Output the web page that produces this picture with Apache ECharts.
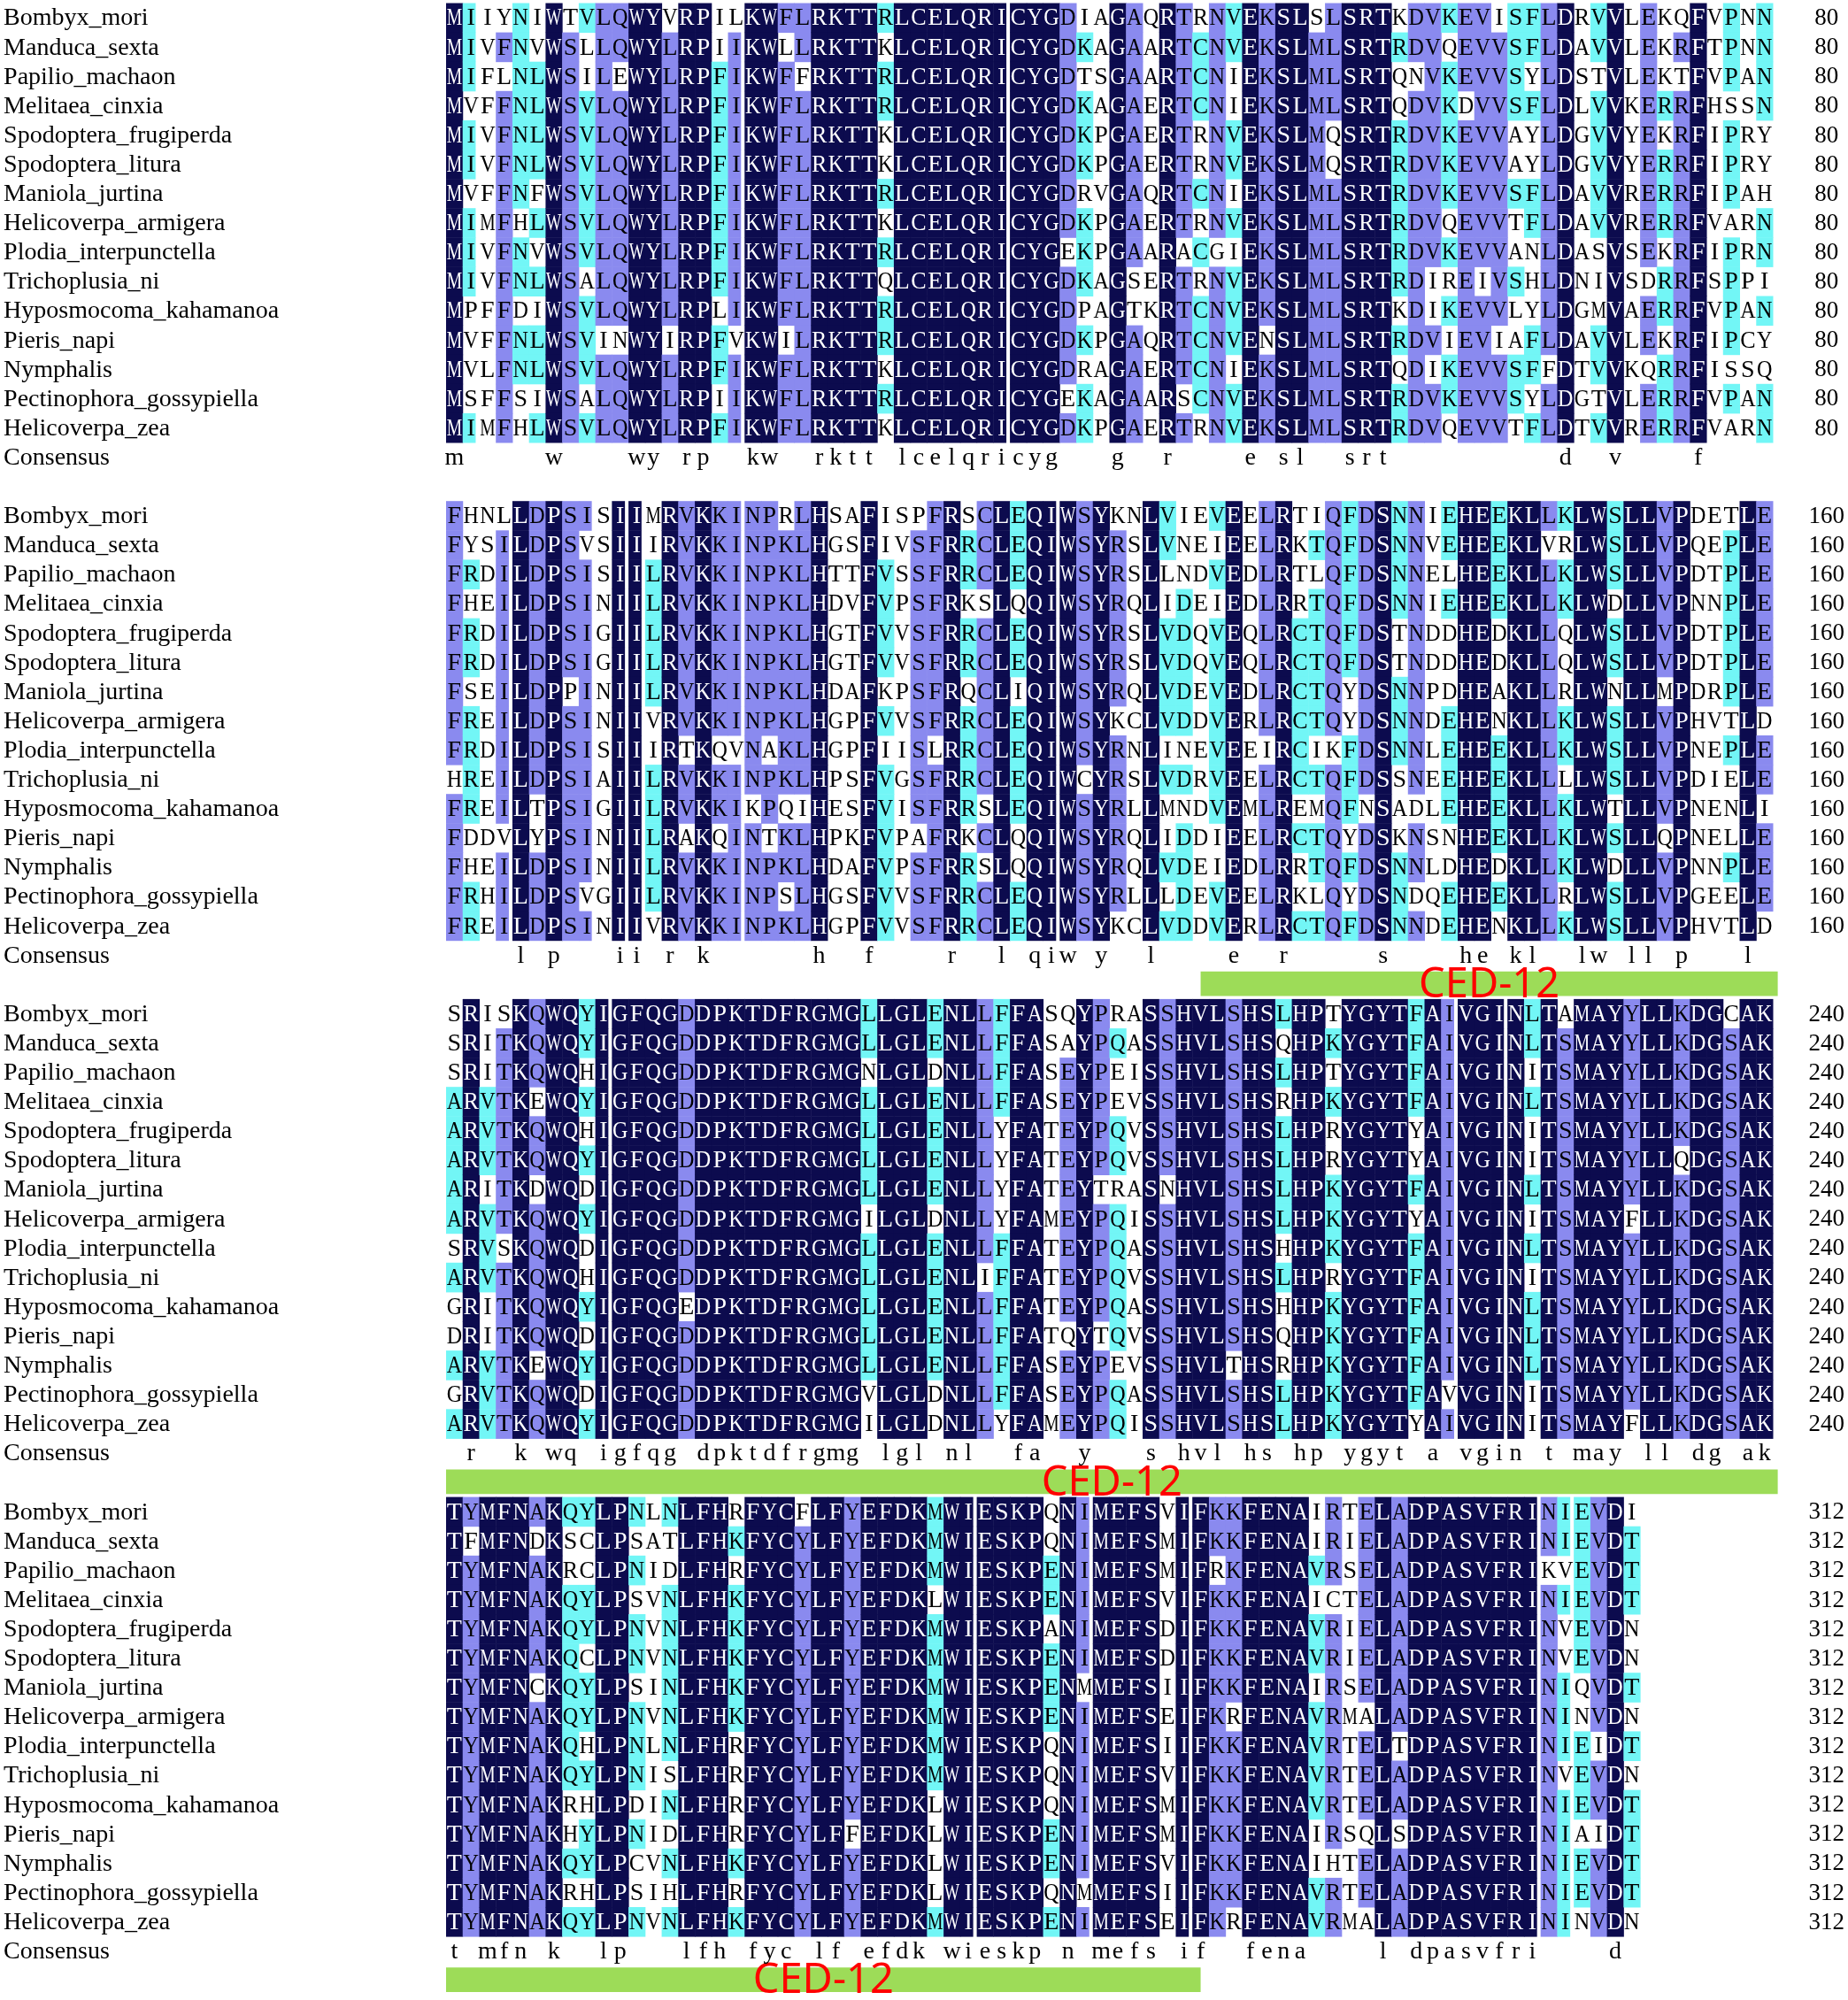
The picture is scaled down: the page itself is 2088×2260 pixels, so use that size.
<!DOCTYPE html>
<html>
<head>
<meta charset="UTF-8">
<title>CED-12 alignment</title>
<script src="https://cdn.jsdelivr.net/npm/echarts@6/dist/echarts.min.js"></script>
<style>html,body{margin:0;padding:0;background:#fff;}</style>
</head>
<body>
<div id="main" style="width:2088px;height:2260px;"></div>
<script>
// species, one row each in every block
var names = ['Bombyx_mori', 'Manduca_sexta', 'Papilio_machaon', 'Melitaea_cinxia',
    'Spodoptera_frugiperda', 'Spodoptera_litura', 'Maniola_jurtina', 'Helicoverpa_armigera',
    'Plodia_interpunctella', 'Trichoplusia_ni', 'Hyposmocoma_kahamanoa', 'Pieris_napi',
    'Nymphalis', 'Pectinophora_gossypiella', 'Helicoverpa_zea'];

// residues 1-80
var block1 = [
    'MIIYNIWTVLQWYVRPILKWFLRKTTRLCELQRICYGDIAGAQRTRNVEKSLSLSRTKDVKEVISFLDRVVLEKQFVPNN',
    'MIVFNVWSLLQWYLRPIIKWLLRKTTKLCELQRICYGDKAGAARTCNVEKSLMLSRTRDVQEVVSFLDAVVLEKRFTPNN',
    'MIFLNLWSILEWYLRPFIKWFFRKTTRLCELQRICYGDTSGAARTCNIEKSLMLSRTQNVKEVVSYLDSTVLEKTFVPAN',
    'MVFFNLWSVLQWYLRPFIKWFLRKTTRLCELQRICYGDKAGAERTCNIEKSLMLSRTQDVKDVVSFLDLVVKERRFHSSN',
    'MIVFNLWSVLQWYLRPFIKWFLRKTTKLCELQRICYGDKPGAERTRNVEKSLMQSRTRDVKEVVAYLDGVVYEKRFIPRY',
    'MIVFNLWSVLQWYLRPFIKWFLRKTTKLCELQRICYGDKPGAERTRNVEKSLMQSRTRDVKEVVAYLDGVVYERRFIPRY',
    'MVFFNFWSVLQWYLRPFIKWFLRKTTRLCELQRICYGDRVGAQRTCNIEKSLMLSRTRDVKEVVSFLDAVVRERRFIPAH',
    'MIMFHLWSVLQWYLRPFIKWFLRKTTKLCELQRICYGDKPGAERTRNVEKSLMLSRTRDVQEVVTFLDAVVRERRFVARN',
    'MIVFNVWSVLQWYLRPFIKWFLRKTTRLCELQRICYGEKPGAARACGIEKSLMLSRTRDVKEVVANLDASVSEKRFIPRN',
    'MIVFNLWSALQWYLRPFIKWFLRKTTQLCELQRICYGDKAGSERTRNVEKSLMLSRTRDIREIVSHLDNIVSDRRFSPPI',
    'MPFFDIWSVLQWYLRPLIKWFLRKTTRLCELQRICYGDPAGTKRTCNVEKSLMLSRTKDIKEVVLYLDGMVAERRFVPAN',
    'MVFFNLWSVINWYIRPFVKWILRKTTRLCELQRICYGDKPGAQRTCNVENSLMLSRTRDVIEVIAFLDAVVLEKRFIPCY',
    'MVLFNLWSVLQWYLRPFIKWFLRKTTKLCELQRICYGDRAGAERTCNIEKSLMLSRTQDIKEVVSFFDTVVKQRRFISSQ',
    'MSFFSIWSALQWYLRPIIKWFLRKTTRLCELQRICYGEKAGAARSCNVEKSLMLSRTRDVKEVVSYLDGTVLERRFVPAN',
    'MIMFHLWSVLQWYLRPFIKWFLRKTTKLCELQRICYGDKPGAERTRNVEKSLMLSRTRDVQEVVTFLDTVVRERRFVARN'
];

// residues 81-160
var block2 = [
    'FHNLLDPSISIIMRVKKINPRLHSAFISPFRSCLEQIWSYKNLVIEVEELRTIQFDSNNIEHEEKLLKLWSLLVPDETLE',
    'FYSILDPSVSIIIRVKKINPKLHGSFIVSFRRCLEQIWSYRSLVNEIEELRKTQFDSNNVEHEEKLVRLWSLLVPQEPLE',
    'FRDILDPSISIILRVKKINPKLHTTFVSSFRRCLEQIWSYRSLLNDVEDLRTLQFDSNNELHEEKLLKLWSLLVPDTPLE',
    'FHEILDPSINIILRVKKINPKLHDVFVPSFRKSLQQIWSYRQLIDEIEDLRRTQFDSNNIEHEEKLLKLWDLLVPNNPLE',
    'FRDILDPSIGIILRVKKINPKLHGTFVVSFRRCLEQIWSYRSLVDQVEQLRCTQFDSTNDDHEDKLLQLWSLLVPDTPLE',
    'FRDILDPSIGIILRVKKINPKLHGTFVVSFRRCLEQIWSYRSLVDQVEQLRCTQFDSTNDDHEDKLLQLWSLLVPDTPLE',
    'FSEILDPPINIILRVKKINPKLHDAFKPSFRQCLIQIWSYRQLVDEVEDLRCTQYDSNNPDHEAKLLRLWNLLMPDRPLE',
    'FREILDPSINIIVRVKKINPKLHGPFVVSFRRCLEQIWSYKCLVDDVERLRCTQYDSNNDEHENKLLKLWSLLVPHVTLD',
    'FRDILDPSISIIIRTKQVNAKLHGPFIISLRRCLEQIWSYRNLINEVEEIRCIKFDSNNLEHEEKLLKLWSLLVPNEPLE',
    'HREILDPSIAIILRVKKINPKLHPSFVGSFRRCLEQIWCYRSLVDRVEELRCTQFDSSNEEHEEKLLLLWSLLVPDIELE',
    'FREILTPSIGIILRVKKIKPQIHESFVISFRRSLEQIWSYRLLMNDVEMLREMQFNSADLEHEEKLLKLWTLLVPNENLI',
    'FDDVLYPSINIILRAKQINTKLHPKFVPAFRKCLQQIWSYRQLIDDIEELRCTQYDSKNSNHEEKLLKLWSLLQPNELLE',
    'FHEILDPSINIILRVKKINPKLHDAFVPSFRRSLQQIWSYRQLVDEIEDLRRTQFDSNNLDHEDKLLKLWDLLVPNNPLE',
    'FRHILDPSVGIILRVKKINPSLHGSFVVSFRRCLEQIWSYRLLLDEVEELRKLQYDSNDQEHEEKLLRLWSLLVPGEELE',
    'FREILDPSINIIVRVKKINPKLHGPFVVSFRRCLEQIWSYKCLVDDVERLRCTQFDSNNDEHENKLLKLWSLLVPHVTLD'
];

// residues 161-240
var block3 = [
    'SRISKQWQYIGFQGDDPKTDFRGMGLLGLENLLFFASQYPRASSHVLSHSLHPTYGYTFAIVGINLTAMAYYLLKDGCAK',
    'SRITKQWQYIGFQGDDPKTDFRGMGLLGLENLLFFASAYPQASSHVLSHSQHPKYGYTFAIVGINLTSMAYYLLKDGSAK',
    'SRITKQWQHIGFQGDDPKTDFRGMGNLGLDNLLFFASEYPEISSHVLSHSLHPTYGYTFAIVGINITSMAYYLLKDGSAK',
    'ARVTKEWQYIGFQGDDPKTDFRGMGLLGLENLLFFASEYPEVSSHVLSHSRHPKYGYTFAIVGINLTSMAYYLLKDGSAK',
    'ARVTKQWQHIGFQGDDPKTDFRGMGLLGLENLLYFATEYPQVSSHVLSHSLHPRYGYTYAIVGINITSMAYYLLKDGSAK',
    'ARVTKQWQYIGFQGDDPKTDFRGMGLLGLENLLYFATEYPQVSSHVLSHSLHPRYGYTYAIVGINITSMAYYLLQDGSAK',
    'ARITKDWQDIGFQGDDPKTDFRGMGLLGLENLLYFATEYTRASNHVLSHSLHPKYGYTFAIVGINLTSMAYYLLKDGSAK',
    'ARVTKQWQYIGFQGDDPKTDFRGMGILGLDNLLYFAMEYPQISSHVLSHSLHPKYGYTYAIVGINITSMAYFLLKDGSAK',
    'SRVSKQWQDIGFQGDDPKTDFRGMGLLGLENLLFFATEYPQASSHVLSHSHHPKYGYTFAIVGINLTSMAYYLLKDGSAK',
    'ARVTKQWQHIGFQGDDPKTDFRGMGLLGLENLIFFATEYPQVSSHVLSHSLHPRYGYTFAIVGINITSMAYYLLKDGSAK',
    'GRITKQWQYIGFQGEDPKTDFRGMGLLGLENLLFFATEYPQASSHVLSHSHHPKYGYTFAIVGINLTSMAYYLLKDGSAK',
    'DRITKQWQDIGFQGDDPKTDFRGMGLLGLENLLFFATQYTQVSSHVLSHSQHPKYGYTFAIVGINLTSMAYYLLKDGSAK',
    'ARVTKEWQYIGFQGDDPKTDFRGMGLLGLENLLFFASEYPEVSSHVLTHSRHPKYGYTFAIVGINLTSMAYYLLKDGSAK',
    'GRVTKQWQDIGFQGDDPKTDFRGMGVLGLDNLLFFASEYPQASSHVLSHSLHPKYGYTFAVVGINITSMAYYLLKDGSAK',
    'ARVTKQWQYIGFQGDDPKTDFRGMGILGLDNLLYFAMEYPQISSHVLSHSLHPKYGYTYAIVGINITSMAYFLLKDGSAK'
];

// residues 241-312
var block4 = [
    'TYMFNAKQYLPNLNLFHRFYCFLFYEFDKMWIESKPQNIMEFSVIFKKFENAIRTELADPASVFRINIEVDI',
    'TFMFNDKSCLPSATLFHKFYCYLFYEFDKMWIESKPQNIMEFSMIFKKFENAIRIELADPASVFRINIEVDT',
    'TYMFNAKRCLPNIDLFHRFYCYLFYEFDKMWIESKPENIMEFSMIFRKFENAVRSELADPASVFRIKVEVDT',
    'TYMFNAKQYLPSVNLFHKFYCYLFYEFDKLWIESKPENIMEFSVIFKKFENAICTELADPASVFRINIEVDT',
    'TYMFNAKQYLPNVNLFHKFYCYLFYEFDKMWIESKPANIMEFSDIFKKFENAVRIELADPASVFRINVEVDN',
    'TYMFNAKQCLPNVNLFHKFYCYLFYEFDKMWIESKPENIMEFSDIFKKFENAVRIELADPASVFRINVEVDN',
    'TYMFNCKQYLPSINLFHKFYCYLFYEFDKMWIESKPENMMEFSIIFKKFENAIRSELADPASVFRINIQVDT',
    'TYMFNAKQYLPNVNLFHKFYCYLFYEFDKMWIESKPENIMEFSEIFKRFENAVRMALADPASVFRININVDN',
    'TYMFNAKQHLPNLNLFHRFYCYLFYEFDKMWIESKPQNIMEFSIIFKKFENAVRTELTDPASVFRINIEIDT',
    'TYMFNAKQYLPNISLFHRFYCYLFYEFDKMWIESKPQNIMEFSVIFKKFENAVRTELADPASVFRINVEVDN',
    'TYMFNAKRHLPDINLFHRFYCYLFYEFDKLWIESKPQNIMEFSMIFKKFENAVRTELADPASVFRINIEVDT',
    'TYMFNAKHYLPNIDLFHRFYCYLFFEFDKLWIESKPENIMEFSMIFKKFENAIRSQLSDPASVFRINIAIDT',
    'TYMFNAKQYLPCVNLFHKFYCYLFYEFDKLWIESKPENIMEFSVIFKKFENAIHTELADPASVFRINIEVDT',
    'TYMFNAKRHLPSIHLFHRFYCYLFYEFDKLWIESKPQNMMEFSIIFKKFENAVRTELADPASVFRINIEVDT',
    'TYMFNAKQYLPNVNLFHKFYCYLFYEFDKMWIESKPENIMEFSEIFKRFENAVRMALADPASVFRININVDN'
];

var blockEnds = [80, 160, 240, 312];   // numbers printed at the right
var domainName = 'CED-12';
var domainRange = [125.5, 285.5];      // alignment positions covered by the bar

var blocks = [block1, block2, block3, block4];
var ROWS = 17;                          // 15 sequences + consensus + bar line
var levelColors = ['#ffffff', '#72f6f6', '#8a8aef', '#0c0b4e'];
var SERIF = '"Liberation Serif", "Times New Roman", serif';

// squeeze wide glyphs into one cell, like the original picture
var mctx = document.createElement('canvas').getContext('2d');
mctx.font = '28px ' + SERIF;
var fitCache = {};
function fitScale(ch) {
    if (fitCache[ch] == null) {
        var w = mctx.measureText(ch).width;
        fitCache[ch] = w > 17.4 ? 17.4 / w : 1;
    }
    return fitCache[ch];
}

var cellData = [], cellText = [];
var consData = [], consText = [];
var labelData = [], labelText = [];
var domainData = [];

blocks.forEach(function (seqs, b) {
    var top = b * ROWS;
    var len = seqs[0].length;
    for (var c = 0; c < len; c++) {
        var counts = {}, best = '', n = 0;
        seqs.forEach(function (s) {
            var ch = s.charAt(c);
            counts[ch] = (counts[ch] || 0) + 1;
            if (counts[ch] > n) { n = counts[ch]; best = ch; }
        });
        var f = n / seqs.length;
        var lvl = f === 1 ? 3 : (f >= 0.75 ? 2 : (f >= 0.5 ? 1 : 0));
        seqs.forEach(function (s, i) {
            var ch = s.charAt(c);
            cellData.push([c, top + i, ch === best ? lvl : 0]);
            cellText.push(ch);
        });
        if (lvl === 3) {
            consData.push([c, top + 15]);
            consText.push(best.toLowerCase());
        }
    }
    names.forEach(function (nm, i) {
        labelData.push([-26.68, top + i, 0]); labelText.push(nm);
        labelData.push([83.24, top + i, 1]); labelText.push(String(blockEnds[b]));
    });
    labelData.push([-26.68, top + 15, 0]); labelText.push('Consensus');

    var start = b === 0 ? 0 : blockEnds[b - 1];
    var s0 = Math.max(domainRange[0], start) - start;
    var e0 = Math.min(domainRange[1], blockEnds[b]) - start;
    if (domainRange[1] > blockEnds[b]) e0 += 0.3;
    if (e0 > s0) domainData.push([s0, e0, top + 16]);
});

function renderCell(params, api) {
    var col = api.value(0), row = api.value(1), lvl = api.value(2);
    var ch = cellText[params.dataIndex];
    var p0 = api.coord([col, row]);
    var p1 = api.coord([col + 1, row + 1]);
    var w = p1[0] - p0[0], h = p1[1] - p0[1];
    var kids = [];
    if (lvl > 0) {
        kids.push({
            type: 'rect',
            shape: { x: p0[0], y: p0[1], width: ch === 'I' ? w - 4 : w + 0.5, height: h + 0.5 },
            style: { fill: levelColors[lvl] }
        });
    }
    kids.push({
        type: 'text', x: p0[0] + w / 2, y: p0[1] + h / 2 + 1, scaleX: fitScale(ch),
        style: {
            text: ch, fontFamily: SERIF, fontSize: 28,
            fill: lvl === 3 ? '#ffffff' : '#000000', align: 'center', verticalAlign: 'middle'
        }
    });
    return { type: 'group', children: kids };
}

function renderCons(params, api) {
    var p0 = api.coord([api.value(0), api.value(1)]);
    var p1 = api.coord([api.value(0) + 1, api.value(1) + 1]);
    return {
        type: 'text', x: (p0[0] + p1[0]) / 2, y: (p0[1] + p1[1]) / 2 + 1,
        style: {
            text: consText[params.dataIndex], fontFamily: SERIF, fontSize: 28,
            fill: '#000', align: 'center', verticalAlign: 'middle'
        }
    };
}

function renderLabel(params, api) {
    var p = api.coord([api.value(0), api.value(1) + 0.5]);
    var right = api.value(2) === 1;
    return {
        type: 'text', x: p[0], y: p[1] + 1,
        style: {
            text: labelText[params.dataIndex], fontFamily: SERIF, fontSize: right ? 27 : 28,
            fill: '#000', align: right ? 'center' : 'left', verticalAlign: 'middle'
        }
    };
}

function renderDomain(params, api) {
    var p0 = api.coord([api.value(0), api.value(2) + 0.06]);
    var p1 = api.coord([api.value(1), api.value(2) + 0.9]);
    return {
        type: 'group',
        children: [
            { type: 'rect', shape: { x: p0[0], y: p0[1], width: p1[0] - p0[0], height: p1[1] - p0[1] },
              style: { fill: '#9ddc58' } },
            { type: 'text', x: (p0[0] + p1[0]) / 2, y: (p0[1] + p1[1]) / 2 + 2,
              style: { text: domainName, fontFamily: '"Noto Sans", "DejaVu Sans", sans-serif', fontSize: 47,
                       fill: '#ff0000', align: 'center', verticalAlign: 'middle' } }
        ]
    };
}

var myChart = echarts.init(document.getElementById('main'));
var option = {
    animation: false,
    backgroundColor: '#ffffff',
    grid: { left: 504, top: 3.5, width: 1499, height: 2250.8, outerBoundsMode: 'none' },
    xAxis: { type: 'value', min: 0, max: 80, show: false },
    yAxis: { type: 'value', min: 0, max: 68, inverse: true, show: false },
    series: [
        { type: 'custom', name: 'domain', data: domainData, encode: { x: [0, 1], y: 2 },
          renderItem: renderDomain, clip: false, z: 1, silent: true },
        { type: 'custom', name: 'cells', data: cellData, encode: { x: 0, y: 1 },
          renderItem: renderCell, clip: false, z: 2, progressive: 0, silent: true },
        { type: 'custom', name: 'consensus', data: consData, encode: { x: 0, y: 1 },
          renderItem: renderCons, clip: false, z: 3, silent: true },
        { type: 'custom', name: 'labels', data: labelData, encode: { x: 0, y: 1 },
          renderItem: renderLabel, clip: false, z: 3, silent: true }
    ]
};
myChart.setOption(option);
</script>
</body>
</html>
